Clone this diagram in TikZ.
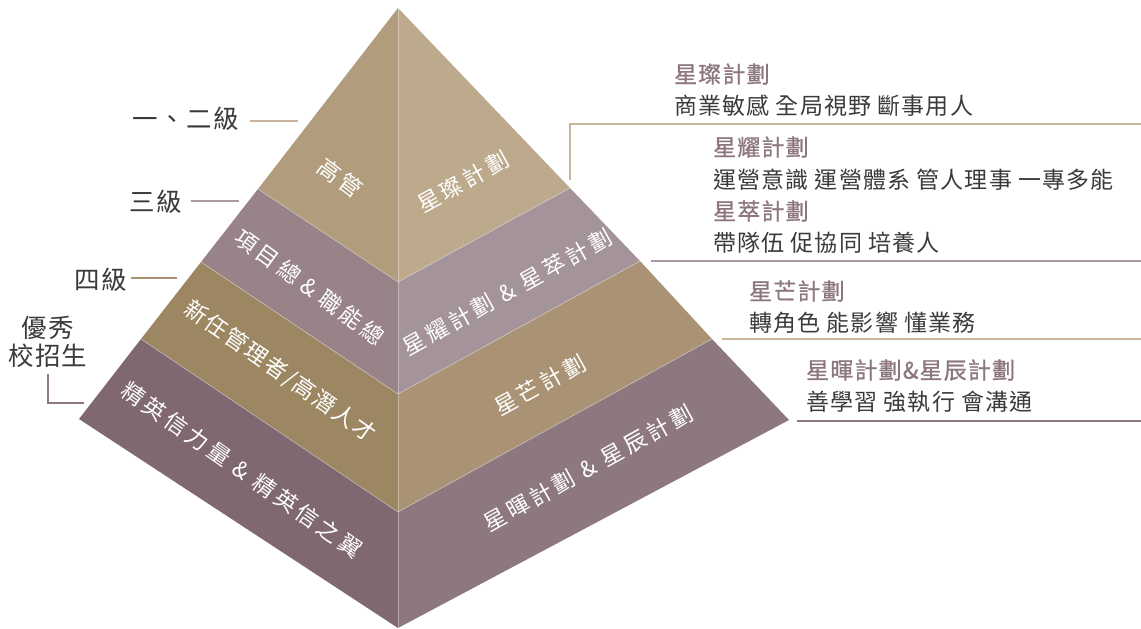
\documentclass[tikz,border=0pt]{standalone}
\usepackage{fontspec}
\setmainfont{Noto Sans CJK TC}
\newfontfamily\bodyf{Noto Sans CJK TC}[LetterSpace=5]
\newfontfamily\headf{Noto Sans CJK TC}[LetterSpace=5,FakeBold=1]
\newfontfamily\plabf{Noto Sans CJK TC}[LetterSpace=16]
\newfontfamily\plabg{Noto Sans CJK TC}[LetterSpace=8]
\definecolor{tanL}{HTML}{B19D7E}
\definecolor{tanR}{HTML}{BDAA8D}
\definecolor{mauL}{HTML}{988389}
\definecolor{mauR}{HTML}{A4939A}
\definecolor{oliL}{HTML}{9C8762}
\definecolor{oliR}{HTML}{A99374}
\definecolor{purL}{HTML}{7F6872}
\definecolor{purR}{HTML}{8D7880}
\definecolor{headc}{HTML}{8D7680}
\definecolor{txtc}{HTML}{3A3A3A}
\definecolor{lnTan}{HTML}{C6B59B}
\definecolor{lnMau}{HTML}{A89AA0}
\definecolor{lnPur}{HTML}{8E7A84}
\definecolor{lnOli}{HTML}{A89272}
\tikzset{
  sep/.style={draw=white, draw opacity=0.35, line width=0.8pt},
  plab/.style={text=white, font=\plabf\fontsize{22.5}{24}\selectfont, inner sep=0pt},
  side/.style={text=txtc, font=\bodyf\fontsize{25.5}{29}\selectfont, inner sep=0pt},
  head/.style={text=headc, font=\headf\fontsize{23}{26}\selectfont, inner sep=0pt, anchor=west},
  body/.style={text=txtc, font=\bodyf\fontsize{23}{26}\selectfont, inner sep=0pt, anchor=west},
  lead/.style={line width=1.2pt},
}
\newcommand{\amp}[1]{\hspace{#1em}\&\hspace{#1em}}
\begin{document}
\begin{tikzpicture}[x=1pt,y=-1pt]
\useasboundingbox (0,0) rectangle (1141,629);
% key points
\coordinate (A) at (398,8);
\coordinate (L1) at (258,189);
\coordinate (L2) at (201,262);
\coordinate (L3) at (141,339);
\coordinate (L4) at (79,419);
\coordinate (C1) at (398,282);
\coordinate (C2) at (398,394);
\coordinate (C3) at (398,512);
\coordinate (B) at (398,628);
\coordinate (R1) at (570,188);
\coordinate (R2) at (640,261);
\coordinate (R3) at (712,339);
\coordinate (R4) at (789,420);
% faces
\fill[tanL] (A) -- (L1) -- (C1) -- cycle;
\fill[tanR] (A) -- (C1) -- (R1) -- cycle;
\fill[mauL] (L1) -- (L2) -- (C2) -- (C1) -- cycle;
\fill[mauR] (C1) -- (C2) -- (R2) -- (R1) -- cycle;
\fill[oliL] (L2) -- (L3) -- (C3) -- (C2) -- cycle;
\fill[oliR] (C2) -- (C3) -- (R3) -- (R2) -- cycle;
\fill[purL] (L3) -- (L4) -- (B) -- (C3) -- cycle;
\fill[purR] (C3) -- (B) -- (R4) -- (R3) -- cycle;
% separators
\draw[sep] (A) -- (B);
\draw[sep] (L1) -- (C1) -- (R1);
\draw[sep] (L2) -- (C2) -- (R2);
\draw[sep] (L3) -- (C3) -- (R3);
% pyramid labels
\node[plab, rotate=-37] (g1) at (340,178) {高管};
\node[plab, rotate=29] (s1) at (463,182) {星璨計劃};
\node[plab, rotate=-36] (g2) at (310,287) {項目總\amp{0.3}職能總};
\node[plab, rotate=29] (s2) at (507,292) {星耀計劃\amp{0.4}星萃計劃};
\node[plab, rotate=-35, font=\plabg\fontsize{22.5}{24}\selectfont] (g3) at (280,372) {新任管理者/高潛人才};
\node[plab, rotate=29] (s3) at (540,385) {星芒計劃};
\node[plab, rotate=-35] (g4) at (242,470) {精英信力量\amp{0.4}精英信之翼};
\node[plab, rotate=29] (s4) at (588,468) {星暉計劃\amp{0.4}星辰計劃};
% left labels
\node[side, anchor=east] (lv1) at (239,119) {一、二級};
\node[side, anchor=east] (lv2) at (182,202) {三級};
\node[side, anchor=east] (lv3) at (127,280) {四級};
\node[side, align=center] (lv4) at (48,342) {優秀\\[-1pt]校招生};
\coordinate (e1) at (298,121);
\coordinate (e2) at (239,201);
\coordinate (e3) at (177,278);
\coordinate (e4a) at (48,374);
\coordinate (e4b) at (48,403);
\coordinate (e4c) at (84,403);
\draw[lead, lnTan] (lv1.east) ++(11,2) -- (e1);
\draw[lead, lnMau] (lv2.east) ++(9,-1) -- (e2);
\draw[lead, lnOli] (lv3.east) ++(4,-2) -- (e3);
\draw[lead, lnPur] (e4a) -- (e4b) -- (e4c);
% right texts
\node[head] (h1) at (674,74) {星璨計劃};
\node[body] (b1) at (674,106) {商業敏感 全局視野 斷事用人};
\node[head] (h2) at (713,147) {星耀計劃};
\node[body] (b2) at (713,180) {運營意識 運營體系 管人理事 一專多能};
\node[head] (h3) at (713,211) {星萃計劃};
\node[body] (b3) at (713,243) {帶隊伍 促協同 培養人};
\node[head] (h4) at (749,291) {星芒計劃};
\node[body] (b4) at (749,323) {轉角色 能影響 懂業務};
\node[head] (h5) at (806,370) {星暉計劃\&星辰計劃};
\node[body] (b5) at (806,402) {善學習 強執行 會溝通};
% right leader lines
\coordinate (r1a) at (570,180);
\coordinate (r1b) at (570,124);
\coordinate (r1c) at (1141,124);
\coordinate (r2a) at (651,261);
\coordinate (r2b) at (1141,261);
\coordinate (r3a) at (722,339);
\coordinate (r3b) at (1141,339);
\coordinate (r4a) at (797,421);
\coordinate (r4b) at (1141,421);
\draw[lead, lnTan] (r1a) -- (r1b) -- (r1c);
\draw[lead, lnMau] (r2a) -- (r2b);
\draw[lead, lnTan] (r3a) -- (r3b);
\draw[lead, lnPur] (r4a) -- (r4b);
\end{tikzpicture}
\end{document}
